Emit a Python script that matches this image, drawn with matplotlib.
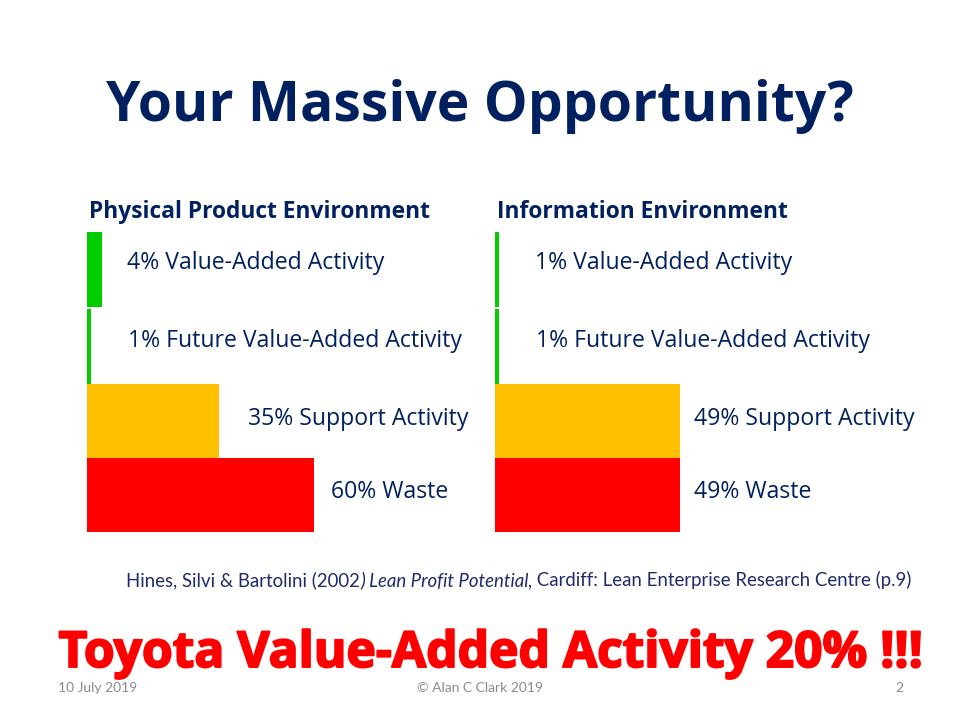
#!/usr/bin/env python
"""
Slide with two bar panels comparing value-added activity in two environments
"""

import matplotlib.pyplot as plt
import matplotlib.patheffects as pe

# data for both panels, top row first
physical_values = [4, 1, 35, 60]
information_values = [1, 1, 49, 49]
physical_labels = ["4% Value-Added Activity", "1% Future Value-Added Activity",
                   "35% Support Activity", "60% Waste"]
information_labels = ["1% Value-Added Activity", "1% Future Value-Added Activity",
                      "49% Support Activity", "49% Waste"]
bar_colors = ["#00CC00", "#00CC00", "#FFC000", "#FF0000"]

NAVY = "#002060"
W, H = 960, 720

# rows are not quite even on the slide
row_tops = [0, 1.027, 2.027, 3.013]
row_heights = [1, 1, 0.987, 0.987]


def put_text(x, y, text, **kwargs):
    # place text using pixel coordinates of the slide
    return fig.text(x / W, 1 - y / H, text, va="center", **kwargs)


def draw_panel(left, values):
    ax = fig.add_axes([left / W, 1 - 532 / H, 378 / W, 300 / H])
    ax.barh(row_tops, values, height=row_heights, align="edge",
            color=bar_colors, linewidth=0)
    ax.set_xlim(0, 100)
    ax.set_ylim(4, 0)
    ax.axis("off")


fig = plt.figure(figsize=(W / 100, H / 100), dpi=100, facecolor="white")

draw_panel(87, physical_values)
draw_panel(495, information_values)

put_text(480, 107, "Your Massive Opportunity?", ha="center", color=NAVY,
         family="Open Sans", fontweight="bold", fontsize=39.8)

put_text(89, 212, "Physical Product Environment", color=NAVY,
         family="Open Sans", fontweight="bold", fontsize=16.4)
put_text(497, 212, "Information Environment", color=NAVY,
         family="Open Sans", fontweight="bold", fontsize=16.4)

label_y = [263, 341, 419, 492]
physical_x = [127, 128, 248, 331]
information_x = [535, 536, 694, 694]
for i in range(4):
    put_text(physical_x[i], label_y[i], physical_labels[i], color=NAVY,
             family="Open Sans", fontsize=16.6)
    put_text(information_x[i], label_y[i], information_labels[i], color=NAVY,
             family="Open Sans", fontsize=16.6)

# citation is three pieces because the middle part is italic
citation_color = "#1F2A6B"
fig.canvas.draw()
renderer = fig.canvas.get_renderer()
x = 126
for piece, style in [("Hines, Silvi & Bartolini (2002", "normal"),
                     (") Lean Profit Potential,", "italic"),
                     (" Cardiff: Lean Enterprise Research Centre (p.9)", "normal")]:
    t = put_text(x, 580, piece, color=citation_color, family="Lato",
                 fontsize=13.4, style=style)
    x = t.get_window_extent(renderer).x1

put_text(491, 654, "Toyota Value-Added Activity 20% !!!", ha="center",
         color="#FF0000", family="Open Sans", fontweight="bold", fontsize=35.8,
         path_effects=[pe.withStroke(linewidth=1.4, foreground="#FF0000")])

put_text(58, 688, "10 July 2019", color="#8B8B8B", family="Lato", fontsize=10)
put_text(480, 688, "© Alan C Clark 2019", ha="center", color="#8B8B8B",
         family="Lato", fontsize=10)
put_text(899, 688, "2", ha="center", color="#8B8B8B", family="Lato", fontsize=10)

fig.savefig("out.png", dpi=100)
